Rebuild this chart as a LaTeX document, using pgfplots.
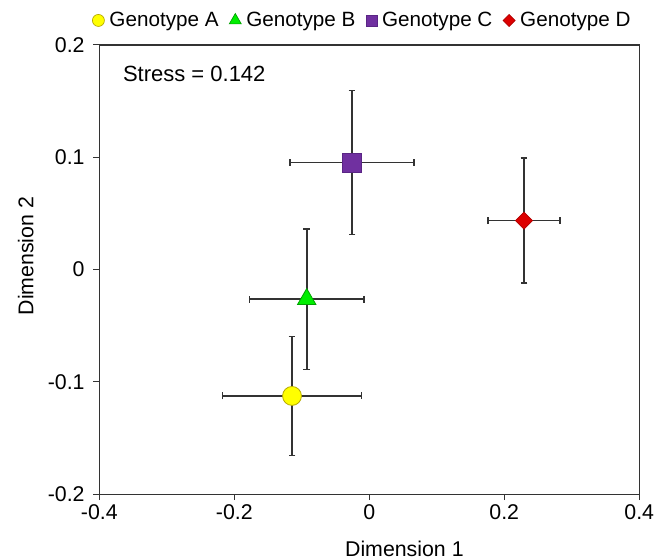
\documentclass[border=0pt]{standalone}
\usepackage{pgfplots}
\pgfplotsset{compat=1.18}
\usepackage{fontspec}
\setmainfont{Liberation Sans}
\definecolor{cAfill}{HTML}{FFFF00}
\definecolor{cAedge}{HTML}{B5A800}
\definecolor{cBfill}{HTML}{00EE00}
\definecolor{cBedge}{HTML}{00A000}
\definecolor{cCfill}{HTML}{7030A0}
\definecolor{cCedge}{HTML}{5A2585}
\definecolor{cDfill}{HTML}{DD0000}
\definecolor{cDedge}{HTML}{B00000}
\definecolor{axgray}{HTML}{333333}
\begin{document}
\begin{tikzpicture}[font=\fontsize{16}{19}\selectfont]
\useasboundingbox (-74.5pt,-49.3pt) rectangle (424.3pt,370.7pt);
\begin{axis}[
  at={(0,0)}, anchor=south west,
  scale only axis, width=405pt, height=337pt,
  xmin=-0.4, xmax=0.4, ymin=-0.2, ymax=0.2,
  xtick={-0.4,-0.2,0,0.2,0.4},
  ytick={-0.2,-0.1,0,0.1,0.2},
  xticklabels={-0.4,-0.2,0,0.2,0.4},
  yticklabels={-0.2,-0.1,0,0.1,0.2},
  /pgf/number format/assume math mode=true,
  xtick pos=bottom, ytick pos=left,
  tick align=outside, major tick length=4.5pt,
  axis line style={axgray, line width=1pt},
  tick style={axgray, line width=0.8pt},
  yticklabel style={xshift=-3pt},
  xlabel={Dimension 1}, ylabel={Dimension 2},
  every axis x label/.style={at={(axis description cs:0.565,-0.1395)}, anchor=base},
  every axis y label/.style={at={(axis description cs:-0.122,0.53)}, rotate=90, anchor=base},
  legend columns=4,
  legend style={draw=none, fill=none, inner sep=0pt,
    at={(axis description cs:0.4855,1)}, anchor=south, yshift=12pt,
    font=\fontsize{15.5}{18}\selectfont,
    nodes={inner sep=0pt},
    /tikz/every odd column/.style={column sep=3.8pt},
    /tikz/every even column/.style={column sep=8pt}},
  legend cell align=left,
  legend image code/.code={\draw[#1] plot coordinates {(0.16cm,0cm)};},
  error bars/error bar style={axgray, line width=1.2pt},
  error bars/error mark=-,
  error bars/error mark options={axgray, line width=1.2pt, mark size=2.6pt, rotate=90},
]
% Genotype A
\addplot+[forget plot, only marks, mark=*, mark size=7.1pt,
  mark options={fill=cAfill, draw=cAedge, line width=0.6pt},
  error bars/.cd, x dir=both, x explicit, y dir=both, y explicit]
  coordinates {(-0.1145,-0.1125) +- (0.103,0.053)};
% Genotype B
\addplot+[forget plot, only marks, mark=triangle*, mark size=8pt,
  mark options={fill=cBfill, draw=cBedge, line width=0.6pt},
  error bars/.cd, x dir=both, x explicit, y dir=both, y explicit]
  coordinates {(-0.0927,-0.0264) +- (0.085,0.0625)};
% Genotype C
\addplot+[forget plot, only marks, mark=square*, mark size=7.1pt,
  mark options={fill=cCfill, draw=cCedge, line width=0.6pt},
  error bars/.cd, x dir=both, x explicit, y dir=both, y explicit]
  coordinates {(-0.0256,0.0953) +- (0.092,0.064)};
% Genotype D
\addplot+[forget plot, only marks, mark=square*, mark size=4.5pt,
  mark options={fill=cDfill, draw=cDedge, line width=0.5pt, rotate=45},
  error bars/.cd, x dir=both, x explicit, y dir=both, y explicit]
  coordinates {(0.2292,0.0436) +- (0.0535,0.0556)};

\addlegendimage{only marks, mark=*, mark size=4.5pt, mark options={fill=cAfill, draw=cAedge, line width=0.5pt}}
\addlegendentry{Genotype A}
\addlegendimage{only marks, mark=triangle*, mark size=5.2pt, mark options={fill=cBfill, draw=cBedge, line width=0.5pt}}
\addlegendentry{Genotype B}
\addlegendimage{only marks, mark=square*, mark size=4.1pt, mark options={fill=cCfill, draw=cCedge, line width=0.5pt}}
\addlegendentry{Genotype C}
\addlegendimage{only marks, mark=square*, mark size=3.2pt, mark options={fill=cDfill, draw=cDedge, line width=0.5pt, rotate=45}}
\addlegendentry{Genotype D}

\node[anchor=base west, inner sep=0pt, font=\fontsize{16.5}{19}\selectfont] at (axis cs:-0.3653,0.1674) {Stress = 0.142};
\end{axis}
\end{tikzpicture}
\end{document}
